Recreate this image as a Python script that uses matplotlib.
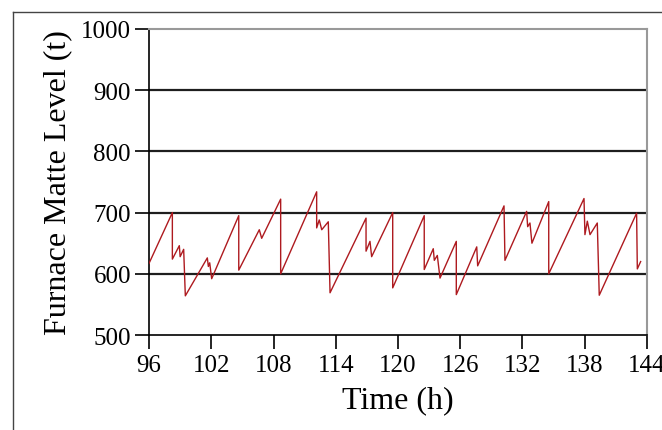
import matplotlib
matplotlib.use('Agg')
import matplotlib.pyplot as plt
from matplotlib.lines import Line2D

# sawtooth vertices (vertical drops = repeated time)
time_h = [96.0, 98.25, 98.25, 98.92, 99.0, 99.34, 99.5, 101.62, 101.72, 101.85,
          102.04, 104.65, 104.65, 106.63, 106.86, 108.69, 108.69, 112.16, 112.16,
          112.41, 112.65, 113.28, 113.45, 116.92, 116.92, 117.3, 117.46, 119.49,
          119.49, 122.53, 122.53, 123.4, 123.5, 123.79, 124.05, 125.62, 125.62,
          127.59, 127.68, 130.22, 130.31, 132.4, 132.5, 132.72, 132.91, 134.53,
          134.53, 137.93, 138.02, 138.25, 138.51, 139.21, 139.4, 143.0, 143.07,
          143.39]
matte_t = [617, 700, 624, 646, 628, 640, 564, 626, 612, 618,
           592, 695, 606, 672, 658, 722, 600, 734, 675,
           688, 672, 685, 569, 691, 637, 653, 628, 700,
           577, 695, 607, 641, 622, 630, 593, 653, 566,
           644, 613, 711, 622, 702, 677, 683, 650, 718,
           600, 723, 664, 686, 664, 683, 565, 699, 608,
           620]

xticks = [96, 102, 108, 114, 120, 126, 132, 138, 144]
yticks = [500, 600, 700, 800, 900, 1000]

plt.rcParams['font.family'] = ['Liberation Serif', 'DejaVu Serif']

fig = plt.figure(figsize=(6.62, 4.31), dpi=100)
ax = fig.add_axes([0.2251, 0.2204, 0.7522, 0.7100])

for v in yticks[1:-1]:
    ax.axhline(v, color='#1e1e1e', lw=1.6, zorder=1)

ax.plot(time_h, matte_t, color='#ae1a1f', lw=1.0, zorder=3)

ax.set_xlim(96, 144)
ax.set_ylim(500, 1000)
ax.set_xticks(xticks)
ax.set_yticks(yticks)
ax.tick_params(axis='both', direction='out', length=10, width=1.2,
               color='black', labelsize=18, pad=3)
ax.tick_params(axis='x', pad=4)

for s in ['left', 'bottom']:
    ax.spines[s].set_color('black')
    ax.spines[s].set_linewidth(1.2)
for s in ['top', 'right']:
    ax.spines[s].set_color('#999999')
    ax.spines[s].set_linewidth(1.5)

ax.set_xlabel('Time (h)', fontsize=23, labelpad=6)
ax.set_ylabel('Furnace Matte Level (t)', fontsize=23, labelpad=6)

# outer frame of the screenshot (left and top only)
fig.add_artist(Line2D([12.5 / 662, 12.5 / 662], [0, 1 - 12.5 / 431],
                      transform=fig.transFigure, color='#444444', lw=1))
fig.add_artist(Line2D([12.5 / 662, 1], [1 - 12.5 / 431, 1 - 12.5 / 431],
                      transform=fig.transFigure, color='#444444', lw=1))

fig.savefig('out.png', dpi=100)
